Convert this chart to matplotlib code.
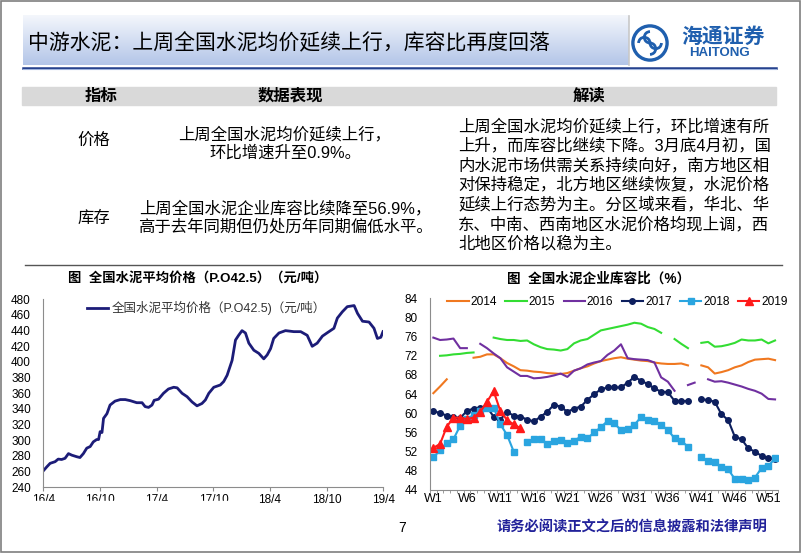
import numpy as np
import pandas as pd
import matplotlib
matplotlib.use('Agg')
import matplotlib.pyplot as plt
import matplotlib.colors as mcolors
from matplotlib.patches import Rectangle, Circle, Arc
from matplotlib.lines import Line2D

plt.rcParams['font.family'] = ['Liberation Sans', 'Noto Sans CJK SC']

nan = np.nan

# left chart: national average cement price (P.O42.5), yuan/ton
price_dates = [
    '2016-04-01', '2016-04-12', '2016-04-23', '2016-05-09', '2016-05-19', '2016-05-30',
    '2016-06-10', '2016-06-21', '2016-07-02', '2016-07-18', '2016-07-28', '2016-08-08',
    '2016-08-19', '2016-08-30', '2016-09-09', '2016-09-20', '2016-09-26', '2016-10-01',
    '2016-10-07', '2016-10-12', '2016-10-23', '2016-11-02', '2016-11-18', '2016-12-05',
    '2016-12-21', '2017-01-06', '2017-01-27', '2017-02-13', '2017-02-23', '2017-03-06',
    '2017-03-17', '2017-03-24', '2017-04-07', '2017-04-23', '2017-05-09', '2017-05-26',
    '2017-06-06', '2017-06-22', '2017-07-08', '2017-07-24', '2017-08-09', '2017-08-25',
    '2017-09-05', '2017-09-16', '2017-10-02', '2017-10-23', '2017-11-03', '2017-11-14',
    '2017-11-30', '2017-12-11', '2017-12-21', '2018-01-01', '2018-01-12', '2018-01-23',
    '2018-02-08', '2018-02-24', '2018-03-12', '2018-03-23', '2018-04-03', '2018-04-13',
    '2018-04-30', '2018-05-21', '2018-06-17', '2018-07-09', '2018-07-30', '2018-08-15',
    '2018-08-31', '2018-09-17', '2018-10-03', '2018-10-24', '2018-11-04', '2018-11-20',
    '2018-12-06', '2018-12-28', '2019-01-08', '2019-01-24', '2019-02-14', '2019-03-02',
    '2019-03-13', '2019-03-24', '2019-03-31',
]
price_vals = [
    261, 266, 270.6, 272.7, 276, 275.5,
    277, 283, 281, 279, 278, 283,
    290, 292, 298, 301, 301, 311,
    310, 328, 334, 345, 350, 352,
    352, 350.6, 348, 348, 343, 342,
    345, 351, 352.5, 360, 365.5, 367.7,
    367, 360, 355.7, 349, 344, 347,
    351.5, 360, 367.7, 370.6, 375, 383,
    402, 428, 434, 440, 437, 424,
    415, 411, 404, 409, 417, 430,
    437, 440, 438.7, 438.7, 434, 420,
    424, 433, 437.4, 443, 456, 464,
    470.6, 472, 462, 452, 451, 443,
    430, 431.5, 438.7,
]
price_ticks = ['2016-04-01', '2016-10-01', '2017-04-01', '2017-10-01',
               '2018-04-01', '2018-10-01', '2019-04-01']
price_tick_labels = ['16/4', '16/10', '17/4', '17/10', '18/4', '18/10', '19/4']

# right chart: cement inventory ratio by week (%)
weeks = list(range(1, 53))
s2014 = [64.2, 65.6, 67.1, nan, nan, nan, 71.6, 71.8, 72.3, 72.3,
         71.5, 70.5, 69.8, 69.0, 68.9, 68.7, 68.6, 68.4, 68.3, 68.2,
         68.4, 68.9, 69.4, 69.8, 70.4, 70.9, 71.2, 71.5, 71.7, 71.4,
         71.2, 71.0, 70.9, 70.6, 70.4, 70.3, 70.3, 70.4, 70.0, nan,
         70.0, 69.6, 68.3, 68.6, 69.0, 69.6, 70.0, 70.7, 71.2, 71.3,
         71.4, 71.1]
s2015 = [nan, 72.0, 72.1, 72.3, 72.4, 72.6, 72.7, nan, nan, 75.8,
         75.5, 75.3, 75.3, 75.1, 75.2, 74.4, 73.8, 73.4, 73.3, 73.1,
         73.4, 74.6, 75.2, 75.5, 76.4, 77.3, 77.6, 77.9, 78.2, 78.5,
         78.9, 78.7, 78.0, 77.6, 76.8, nan, 75.5, 74.5, 73.6, nan,
         74.7, 74.9, 73.9, 74.0, 74.3, 74.7, 75.4, 75.2, 75.2, 75.4,
         74.6, 75.2]
s2016 = [75.8, 75.3, 75.4, 75.6, 73.6, 73.6, nan, 74.5, 73.6, 72.5,
         71.5, 69.6, 68.7, 67.8, 67.8, 67.3, 67.4, 67.6, 67.9, 68.3,
         67.6, 68.9, 69.4, 70.2, 70.6, 70.9, 72.2, 73.1, 74.4, 71.5,
         71.3, 71.2, 71.1, 70.6, 67.5, 66.6, 64.7, nan, 65.9, 66.4,
         nan, 67.1, 66.6, 66.7, 66.4, 66.0, 65.6, 65.1, 64.7, 64.1,
         63.0, 62.9]
s2017 = [60.4, 60.1, 59.5, 59.2, 59.0, 60.5, 61.0, 61.2, 61.3, 59.3,
         58.7, 60.3, 59.5, 59.3, 58.7, 58.3, 59.3, 60.3, 61.8, 61.4,
         60.3, 61.0, 61.4, 62.8, 64.0, 65.0, 65.4, 65.4, 65.4, 66.4,
         67.6, 66.8, 66.1, 65.2, 64.5, 64.4, 62.6, 62.5, 62.6, nan,
         62.9, 62.8, 62.4, 59.8, 58.6, 55.1, 54.6, 52.7, 52.0, 51.1,
         50.7, 50.4]
s2018 = [50.8, 52.3, 53.9, 54.6, 57.4, 58.9, 59.6, 60.5, 61.2, 61.2,
         57.7, 55.5, 52.0, nan, 54.1, 54.6, 54.6, 53.7, 54.2, 54.5,
         53.9, 54.3, 55.1, 54.8, 56.0, 57.1, 58.4, 57.9, 56.5, 56.7,
         57.6, 59.2, 58.7, 58.4, 57.6, 56.5, 54.8, 54.3, 53.0, nan,
         50.8, 50.0, 49.8, 48.7, 48.3, 46.3, 46.3, 46.1, 46.6, 48.6,
         49.0, 50.6]
s2019 = [52.8, 53.6, 57.2, 59.1, 59.1, 58.8, 59.1, 60.3, 62.4, 64.6,
         60.5, 58.6, 57.7, 56.9] + [nan] * 38
week_ticks = [1, 6, 11, 16, 21, 26, 31, 36, 41, 46, 51]

table_right = [
    '上周全国水泥均价延续上行，环比增速有所',
    '上升，而库容比继续下降。3月底4月初，国',
    '内水泥市场供需关系持续向好，南方地区相',
    '对保持稳定，北方地区继续恢复，水泥价格',
    '延续上行态势为主。分区域来看，华北、华',
    '东、中南、西南地区水泥价格均现上调，西',
    '北地区价格以稳为主。',
]

W, H = 802, 554


def fx(x):
    return x / W


def fy(y):
    return 1 - y / H


def box(x0, y0, x1, y1):
    return [fx(x0), fy(y1), (x1 - x0) / W, (y1 - y0) / H]


fig = plt.figure(figsize=(W / 100, H / 100), dpi=100)

# header band with gradient
hax = fig.add_axes(box(23, 15, 629, 65))
top = np.array(mcolors.to_rgb('#f4f7fc'))
bot = np.array(mcolors.to_rgb('#b3c5e8'))
g = np.linspace(0, 1, 100)[:, None, None]
hax.imshow(top + (bot - top) * g, aspect='auto', extent=[0, 1, 0, 1])
hax.axis('off')
fig.add_artist(Line2D([fx(629), fx(629)], [fy(16), fy(65)], color='#c8c8c8', lw=1.2))
fig.text(fx(28), fy(43), '中游水泥：上周全国水泥均价延续上行，库容比再度回落',
         fontsize=15, ha='left', va='center', color='black')
fig.add_artist(Line2D([fx(23), fx(776)], [fy(67.5), fy(67.5)], color='#1f3c8a', lw=1.8))
fig.add_artist(Line2D([fx(23), fx(776)], [fy(69.3), fy(69.3)], color='#9fb3dc', lw=0.8))

# logo
lax = fig.add_axes(box(631, 24, 669, 62))
lax.set_xlim(-1, 1)
lax.set_ylim(-1, 1)
lax.set_aspect('equal')
lax.axis('off')
blue = '#1f5fae'
lax.add_patch(Circle((0, 0), 0.9, fill=False, lw=2.4, ec=blue))
lax.add_patch(Arc((-0.3, 0.0), 0.6, 0.6, theta1=0, theta2=180, lw=2.0, color=blue))
lax.add_patch(Arc((0.3, 0.0), 0.6, 0.6, theta1=180, theta2=360, lw=2.0, color=blue))
lax.add_patch(Arc((0.0, 0.3), 0.6, 0.6, theta1=90, theta2=270, lw=2.0, color=blue))
lax.add_patch(Arc((0.0, -0.3), 0.6, 0.6, theta1=-90, theta2=90, lw=2.0, color=blue))
fig.text(fx(723), fy(37), '海通证券', fontsize=15, color=blue, ha='center', va='center',
         weight='bold')
fig.text(fx(719), fy(53.5), 'HAITONG', fontsize=9.5, color=blue, ha='center', va='center',
         weight='bold')

# table
fig.add_artist(Rectangle((fx(22), fy(105)), (776 - 22) / W, 18 / H,
                         transform=fig.transFigure, color='#d9d9d9', zorder=0))
tfs = 11.8
fig.text(fx(101), fy(96), '指标', fontsize=tfs, weight='bold', ha='center', va='center')
fig.text(fx(290), fy(96), '数据表现', fontsize=tfs, weight='bold', ha='center', va='center')
fig.text(fx(589), fy(96), '解读', fontsize=tfs, weight='bold', ha='center', va='center')
fig.text(fx(94), fy(140), '价格', fontsize=tfs, ha='center', va='center')
fig.text(fx(94), fy(218), '库存', fontsize=tfs, ha='center', va='center')
fig.text(fx(285), fy(134), '上周全国水泥均价延续上行，', fontsize=tfs, ha='center', va='center')
fig.text(fx(285), fy(153), '环比增速升至0.9%。', fontsize=tfs, ha='center', va='center')
fig.text(fx(285), fy(208), '上周全国水泥企业库容比续降至56.9%，', fontsize=tfs, ha='center', va='center')
fig.text(fx(285), fy(227), '高于去年同期但仍处历年同期偏低水平。', fontsize=tfs, ha='center', va='center')
for i, line in enumerate(table_right):
    fig.text(fx(458), fy(126 + 19.6 * i), line, fontsize=tfs, ha='left', va='center')

fig.add_artist(Line2D([fx(25), fx(782)], [fy(265), fy(265)], color='#555555', lw=1.0))

# left chart
ax1 = fig.add_axes(box(43.3, 299.3, 383.3, 487.3))
ax1.plot(pd.to_datetime(price_dates), price_vals, color='#1c1c78', lw=2.0,
         label='全国水泥平均价格（P.O42.5)（元/吨）')
ax1.set_ylim(240, 480)
ax1.set_yticks(range(240, 481, 20))
ax1.set_xlim(pd.Timestamp('2016-04-01'), pd.Timestamp('2019-04-01'))
ax1.set_xticks(pd.to_datetime(price_ticks))
ax1.set_xticklabels(price_tick_labels)
for s in ['top', 'right']:
    ax1.spines[s].set_visible(False)
for s in ['left', 'bottom']:
    ax1.spines[s].set_color('#8c8c8c')
ax1.tick_params(axis='y', length=0, pad=9, labelsize=8.5)
ax1.tick_params(axis='x', length=3, color='#8c8c8c', pad=2, labelsize=8.5)
ax1.legend(loc='center left', bbox_to_anchor=(fx(87), fy(308)), bbox_transform=fig.transFigure,
           frameon=False, fontsize=9, handlelength=1.7, handletextpad=0.3, borderpad=0,
           borderaxespad=0, labelcolor='#333333')
fig.text(fx(198), fy(278.5), '图  全国水泥平均价格（P.O42.5）（元/吨）', fontsize=9.6,
         weight='bold', ha='center', va='center')
fig.add_artist(Rectangle((fx(25), fy(512)), 215 / W, 11.5 / H, transform=fig.transFigure,
                         color='white', zorder=10))

# right chart
ax2 = fig.add_axes(box(430, 298.3, 778.4, 490))
ax2.plot(weeks, s2014, color='#f07820', lw=1.5, label='2014')
ax2.plot(weeks, s2015, color='#33dd33', lw=1.5, label='2015')
ax2.plot(weeks, s2016, color='#7030a0', lw=1.5, label='2016')
ax2.plot(weeks, s2017, color='#0d1f5e', lw=1.5, marker='o', ms=4, label='2017')
ax2.plot(weeks, s2018, color='#2aa5e0', lw=1.5, marker='s', ms=4.5, label='2018')
ax2.plot(weeks, s2019, color='#ff1a1a', lw=1.5, marker='^', ms=6, label='2019')
ax2.set_xlim(0.5, 52.5)
ax2.set_ylim(44, 84)
ax2.set_yticks(range(44, 85, 4))
ax2.set_xticks(week_ticks)
ax2.set_xticklabels(['W%d' % w for w in week_ticks])
ax2.set_xticks(np.arange(0.5, 53, 1), minor=True)
for s in ['top', 'right']:
    ax2.spines[s].set_visible(False)
for s in ['left', 'bottom']:
    ax2.spines[s].set_color('#8c8c8c')
ax2.tick_params(axis='y', length=0, pad=9, labelsize=8.5)
ax2.tick_params(axis='x', which='major', length=0, pad=2, labelsize=9)
ax2.tick_params(axis='x', which='minor', length=2.5, color='#8c8c8c')
ax2.legend(loc='center', bbox_to_anchor=(fx(617.5), fy(302)), bbox_transform=fig.transFigure,
           ncol=6, frameon=False, fontsize=8.6, handlelength=1.8, handletextpad=0.15,
           columnspacing=0.7, borderpad=0, borderaxespad=0)
fig.text(fx(599), fy(278.5), '图  全国水泥企业库容比（%）', fontsize=9.8, weight='bold',
         ha='center', va='center')

# footer
fig.text(fx(402), fy(527.5), '7', fontsize=10, ha='center', va='center')
fig.text(fx(632), fy(527.5), '请务必阅读正文之后的信息披露和法律声明', fontsize=10.3,
         color='#22229a', weight='bold', ha='center', va='center')
fig.add_artist(Rectangle((fx(1), fy(552)), 799 / W, 551 / H, fill=False, ec='#7f7f7f',
                         lw=1.2, transform=fig.transFigure))

fig.savefig('out.png', dpi=100)
